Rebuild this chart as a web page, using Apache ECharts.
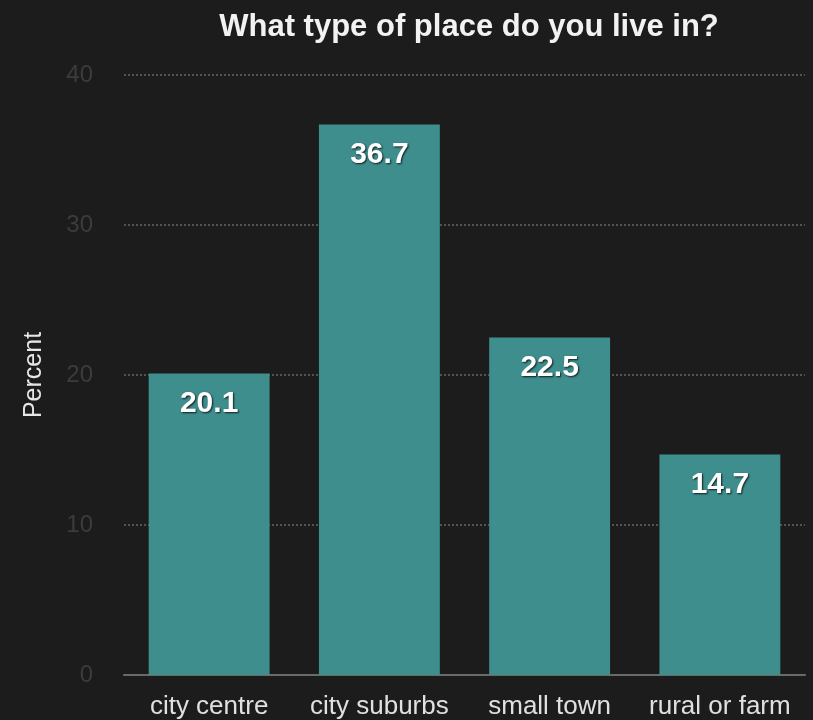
<!DOCTYPE html>
<html>
<head>
<meta charset="utf-8">
<script src="https://cdn.jsdelivr.net/npm/echarts@6/dist/echarts.min.js"></script>
<style>
  html, body { margin: 0; padding: 0; background: #1c1c1c; }
  #chart { width: 813px; height: 720px; }
</style>
</head>
<body>
<div id="chart"></div>
<script>
// Survey answers: where people live
const categories = ['city centre', 'city suburbs', 'small town', 'rural or farm'];
const percents = [20.1, 36.7, 22.5, 14.7];
const yTicks = { min: 0, max: 40, interval: 10 };

const chart = echarts.init(document.getElementById('chart'));
const fontFamily = '"Liberation Sans", Arial, sans-serif';

chart.setOption({
  backgroundColor: '#1c1c1c',
  animation: false,
  title: {
    text: 'What type of place do you live in?',
    left: 464,
    textAlign: 'center',
    top: 7,
    textStyle: { color: '#f2f2f2', fontSize: 31, fontWeight: 'bold', fontFamily }
  },
  grid: { left: 124, right: 8, top: 75, bottom: 45 },
  xAxis: {
    type: 'category',
    data: categories,
    axisLine: { show: true, lineStyle: { color: '#6a6a6a', width: 2 } },
    axisTick: { show: false },
    axisLabel: { color: '#e0e0e0', fontSize: 26, margin: 19, interval: 0, hideOverlap: false, fontFamily }
  },
  yAxis: {
    type: 'value',
    min: yTicks.min,
    max: yTicks.max,
    interval: yTicks.interval,
    name: 'Percent',
    nameLocation: 'middle',
    nameGap: 77,
    nameTextStyle: { color: '#e6e6e6', fontSize: 25, fontFamily },
    axisLine: { show: false },
    axisTick: { show: false },
    axisLabel: { color: '#3c3c3c', fontSize: 24, margin: 31, fontFamily },
    splitLine: { lineStyle: { color: '#666', type: [2, 2], width: 1.5 } }
  },
  series: [{
    type: 'bar',
    data: percents,
    barCategoryGap: '29%',
    itemStyle: { color: '#3f8e8e' },
    label: {
      show: true,
      position: 'insideTop',
      distance: 15,
      color: '#ffffff',
      fontSize: 30,
      fontWeight: 'bold',
      fontFamily,
      textShadowColor: 'rgba(0,0,0,0.8)',
      textShadowBlur: 2,
      textShadowOffsetX: 1,
      textShadowOffsetY: 1,
      formatter: p => p.value.toFixed(1)
    }
  }]
});
</script>
</body>
</html>
